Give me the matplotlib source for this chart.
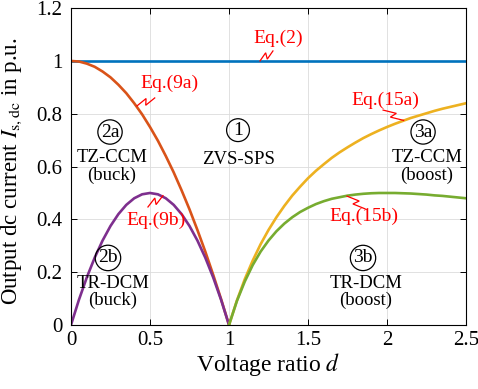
import numpy as np
import matplotlib
matplotlib.use("Agg")
import matplotlib.pyplot as plt

plt.rcParams['font.family'] = ['Liberation Serif', 'DejaVu Serif']
plt.rcParams['mathtext.fontset'] = 'stix'

# Buck side (0 <= d <= 1)
d_buck = [0.0, 0.05, 0.1, 0.15, 0.2, 0.25, 0.3, 0.35, 0.4, 0.45, 0.5,
          0.55, 0.6, 0.65, 0.7, 0.75, 0.8, 0.85, 0.9, 0.95, 1.0]
tz_buck = [1.0, 0.998, 0.99, 0.978, 0.96, 0.938, 0.91, 0.878, 0.84, 0.798, 0.75,
           0.698, 0.64, 0.578, 0.51, 0.438, 0.36, 0.278, 0.19, 0.098, 0.0]
tr_buck = [0.0, 0.095, 0.18, 0.255, 0.32, 0.375, 0.42, 0.455, 0.48, 0.495, 0.5,
           0.495, 0.48, 0.455, 0.42, 0.375, 0.32, 0.255, 0.18, 0.095, 0.0]

# Boost side (1 <= d <= 2.5)
d_boost = [1.0, 1.05, 1.1, 1.15, 1.2, 1.25, 1.3, 1.35, 1.4, 1.45, 1.5,
           1.55, 1.6, 1.65, 1.7, 1.75, 1.8, 1.85, 1.9, 1.95, 2.0,
           2.05, 2.1, 2.15, 2.2, 2.25, 2.3, 2.35, 2.4, 2.45, 2.5]
tz_boost = [0.0, 0.093, 0.174, 0.244, 0.306, 0.36, 0.408, 0.451, 0.49, 0.524, 0.556,
            0.584, 0.609, 0.633, 0.654, 0.673, 0.691, 0.708, 0.723, 0.737, 0.75,
            0.762, 0.773, 0.784, 0.793, 0.802, 0.811, 0.819, 0.826, 0.833, 0.84]
tr_boost = [0.0, 0.091, 0.165, 0.227, 0.278, 0.32, 0.355, 0.384, 0.408, 0.428, 0.444,
            0.458, 0.469, 0.478, 0.484, 0.49, 0.494, 0.497, 0.499, 0.5, 0.5,
            0.5, 0.499, 0.498, 0.496, 0.494, 0.491, 0.489, 0.486, 0.483, 0.48]

# ZVS-SPS limit
d_sps = [0.0, 2.5]
i_sps = [1.0, 1.0]

blue, orange, yellow, purple, green = '#0072BD', '#D95319', '#EDB120', '#7E2F8E', '#77AC30'

fig = plt.figure(figsize=(4.78, 3.89), dpi=100)
ax = fig.add_axes([0.1485, 0.1645, 0.8265, 0.8145])

lw = 1.9
ax.plot(d_sps, i_sps, color=blue, lw=lw)
ax.plot(d_buck, tz_buck, color=orange, lw=lw)
ax.plot(d_buck, tr_buck, color=purple, lw=lw)
ax.plot(d_boost, tz_boost, color=yellow, lw=lw)
ax.plot(d_boost, tr_boost, color=green, lw=lw)

ax.set_xlim(0, 2.5)
ax.set_ylim(0, 1.2)
ax.set_xticks([0, 0.5, 1, 1.5, 2, 2.5])
ax.set_xticklabels(['0', '0.5', '1', '1.5', '2', '2.5'])
ax.set_yticks([0, 0.2, 0.4, 0.6, 0.8, 1, 1.2])
ax.set_yticklabels(['0', '0.2', '0.4', '0.6', '0.8', '1', '1.2'])
ax.tick_params(direction='in', top=True, right=True, labelsize=15, length=4, width=0.7)
ax.tick_params(axis='x', pad=4)
ax.tick_params(axis='y', pad=6)
ax.grid(True, color='#dcdcdc', lw=0.6)
ax.set_axisbelow(True)
for s in ax.spines.values():
    s.set_linewidth(0.8)

ax.set_xlabel('Voltage ratio $d$', fontsize=17, labelpad=1)
ax.set_ylabel('Output dc current $I_{\\mathrm{s,dc}}$ in p.u.', fontsize=16.5)
ax.yaxis.set_label_coords(-0.12, 0.485)


def bolt(x0, y0, x1, y1, jog=3.0):
    # lightning-style leader drawn in pixel space between two data points
    p0 = ax.transData.transform((x0, y0))
    p1 = ax.transData.transform((x1, y1))
    v = p1 - p0
    n = np.array([-v[1], v[0]]) / np.hypot(*v)
    a = p0 + 0.58 * v + n * jog
    b = p0 + 0.42 * v - n * jog
    pts = ax.transData.inverted().transform(np.array([p0, a, b, p1]))
    ax.plot(pts[:, 0], pts[:, 1], color='red', lw=0.9, solid_joinstyle='miter')


eq_style = dict(color='red', fontsize=14, ha='center', va='center')
ax.text(1.31, 1.085, 'Eq.(2)', **eq_style)
bolt(1.196, 1.0, 1.278, 1.038)
ax.text(0.626, 0.917, 'Eq.(9a)', **eq_style)
bolt(0.418, 0.83, 0.53, 0.86)
ax.text(0.54, 0.398, 'Eq.(9b)', **eq_style)
bolt(0.487, 0.447, 0.582, 0.49)
ax.text(1.99, 0.852, 'Eq.(15a)', **eq_style)
bolt(1.975, 0.814, 2.105, 0.775)
ax.text(1.854, 0.41, 'Eq.(15b)', **eq_style)
bolt(1.747, 0.488, 1.861, 0.44)

circ = dict(fontsize=14, ha='center', va='center',
            bbox=dict(boxstyle='circle,pad=0.15', fc='none', ec='black', lw=0.9))
lab = dict(fontsize=13.5, ha='center', va='center', linespacing=1.05)

ax.text(0.247, 0.731, '2a', **circ)
ax.text(0.26, 0.60, 'TZ-CCM\n(buck)', **lab)
ax.text(1.057, 0.738, '1', **circ)
ax.text(1.057, 0.625, 'ZVS-SPS', **lab)
ax.text(2.228, 0.731, '3a', **circ)
ax.text(2.253, 0.60, 'TZ-CCM\n(boost)', **lab)
ax.text(0.234, 0.254, '2b', **circ)
ax.text(0.266, 0.125, 'TR-DCM\n(buck)', **lab)
ax.text(1.848, 0.254, '3b', **circ)
ax.text(1.867, 0.125, 'TR-DCM\n(boost)', **lab)

fig.savefig('out.png', dpi=100)
